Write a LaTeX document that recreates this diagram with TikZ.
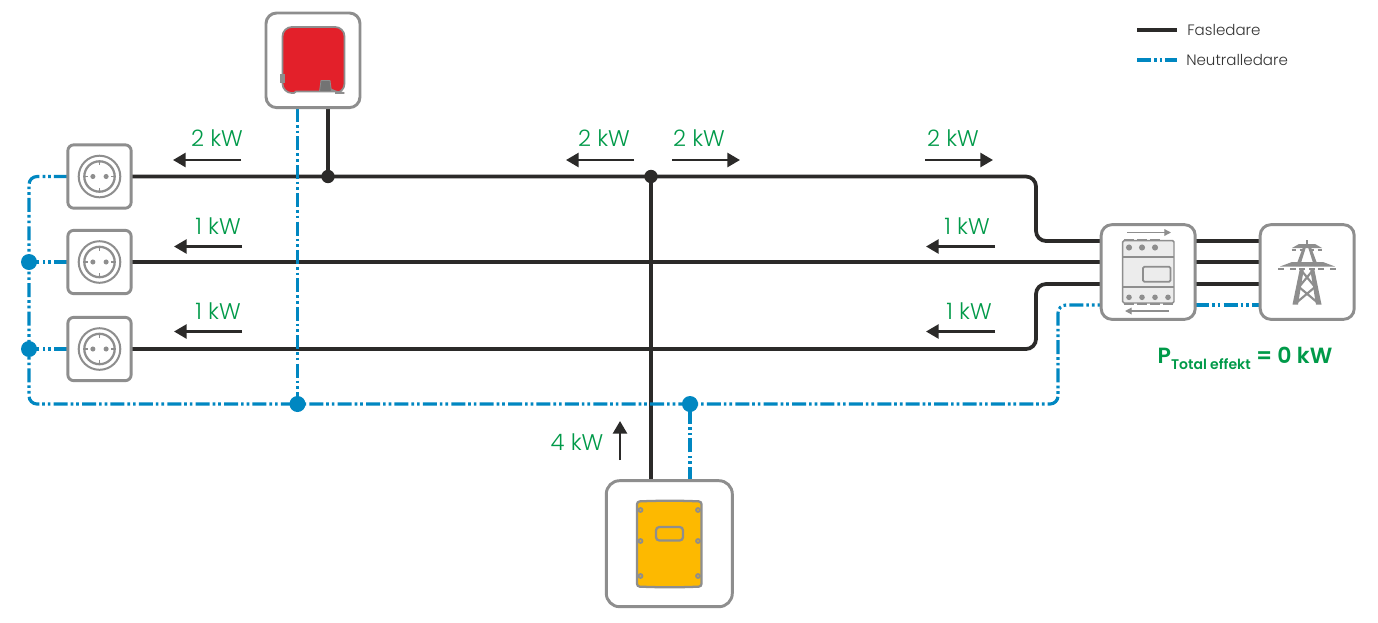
\documentclass[tikz,border=0pt]{standalone}
\usepackage{fontspec}
\setmainfont{Poppins}[UprightFont=* Light,BoldFont=* SemiBold]
\usetikzlibrary{arrows.meta,positioning}
\definecolor{boxgray}{HTML}{8E8E8E}
\definecolor{wire}{HTML}{2B2A29}
\definecolor{neutral}{HTML}{0087C1}
\definecolor{kwgreen}{HTML}{009A49}
\definecolor{invred}{HTML}{E3202A}
\definecolor{islandy}{HTML}{FDB900}
\definecolor{meterbody}{HTML}{ECECEC}
\pgfdeclarelayer{bg}
\pgfsetlayers{bg,main}
\tikzset{
  x=0.75pt,y=-0.75pt,
  devbox/.style={draw=boxgray,line width=2.2pt,fill=white,inner sep=0pt,outer sep=0pt,rectangle},
  phase/.style={draw=wire,line width=2.8pt,rounded corners=7.5pt},
  neut/.style={draw=neutral,line width=2.35pt,rounded corners=6pt,dash pattern=on 10.5pt off 2.2pt on 2pt off 2.2pt on 2pt off 2.4pt},
  flow/.style={draw=wire,line width=2pt,-{Triangle[length=9.5pt,width=10.5pt]}},
  kw/.style={text=kwgreen,font=\fontsize{17}{18}\selectfont,inner sep=0pt},
  legend/.style={text=black!80,font=\fontsize{11.3}{13}\selectfont,anchor=west,inner sep=0pt},
  dotb/.style={circle,fill=neutral,minimum size=12pt,inner sep=0pt},
  dotk/.style={circle,fill=wire,minimum size=10pt,inner sep=0pt},
  thin gray/.style={draw=boxgray,line width=1.3pt},
  pics/socket/.style={code={
    \draw[boxgray,line width=1.5pt] (0,0) circle[radius=15.6pt];
    \draw[boxgray,line width=1.7pt] (0,0) circle[radius=11.4pt];
    \foreach \a in {0,90,180,270}{\draw[boxgray,line width=1.4pt] (\a:11.4pt) -- (\a:8.6pt);}
    \fill[boxgray] (-6.6,0) circle[radius=1.9pt] (6.6,0) circle[radius=1.9pt];
  }},
}
\begin{document}
\begin{tikzpicture}
\useasboundingbox (0,0) rectangle (1378,622);
\begin{pgfonlayer}{bg}
\fill[white] (0,0) rectangle (1378,622);
\end{pgfonlayer}
% devices
\node[devbox,rounded corners=4.5pt,minimum width=47.5pt,minimum height=47.5pt] (s1) at (99.5,176.5) {};
\node[devbox,rounded corners=4.5pt,minimum width=47.5pt,minimum height=47.5pt] (s2) at (99.5,262) {};
\node[devbox,rounded corners=4.5pt,minimum width=47.5pt,minimum height=47.5pt] (s3) at (99.5,349) {};
\pic at (s1) {socket};
\pic at (s2) {socket};
\pic at (s3) {socket};
\node[devbox,rounded corners=8pt,minimum width=70.5pt,minimum height=71pt] (inv) at (313,60.3) {};
\fill[invred,draw=boxgray,line width=1.3pt,rounded corners=7pt] (282.5,60) -- (282.5,27) -- (344.5,27) -- (344.5,93) -- (335,93) [sharp corners] -- (333,91.5) -- (296,91.5) -- (294,93) [rounded corners=7pt] -- (282.5,93) -- cycle;
\fill[black!55,draw=boxgray,line width=.6pt] (319.5,91.5) -- (321,80.5) -- (330,80.5) -- (331.5,91.5) -- cycle;
\fill[boxgray] (280,74) rectangle (284.5,83);
\node[devbox,rounded corners=10pt,minimum width=94.5pt,minimum height=94.5pt] (si) at (669.3,543.7) {};
\fill[islandy,draw=boxgray,line width=1.7pt,rounded corners=2pt] (637,501.5) .. controls (660,500.5) and (680,500.5) .. (701.5,501.5) -- (701.5,586.5) .. controls (680,587.5) and (660,587.5) .. (637,586.5) -- cycle;
\foreach \px in {640.5,698}{\foreach \py in {510,541,576}{\fill[boxgray] (\px,\py) circle[radius=2.2pt];\fill[islandy!60!boxgray] (\px,\py) circle[radius=.9pt];}}
\draw[boxgray,line width=1.7pt,rounded corners=2.5pt] (656,527) rectangle (683,540.5);
\node[devbox,rounded corners=8pt,minimum width=70.5pt,minimum height=71pt] (mt) at (1148.2,272) {};
\node[devbox,rounded corners=8pt,minimum width=70.5pt,minimum height=71pt] (gr) at (1307.2,272) {};
% meter
\fill[meterbody,draw=boxgray,line width=1.1pt,rounded corners=1pt] (1122.7,240.7) rectangle (1174,303);
\draw[thin gray] (1122.7,257.3) -- (1174,257.3) (1122.7,286.7) -- (1174,286.7);
\draw[boxgray,line width=1.3pt,rounded corners=1pt] (1143,266.7) rectangle (1170.5,281.7);
\foreach \px in {1129,1142,1155}{\fill[boxgray] (\px,247.5) circle[radius=2.3pt];\draw[boxgray,line width=1.5pt] (\px-5,240.2) -- (\px+5,240.2);}
\foreach \px in {1129,1142,1155,1168}{\fill[boxgray] (\px,297.3) circle[radius=2.1pt];\draw[boxgray,line width=1.5pt] (\px-5,303.5) -- (\px+5,303.5);}
\draw[boxgray,line width=.9pt,-{Triangle[length=5pt,width=5pt]}] (1127,232.5) -- (1171,232.5);
\draw[boxgray,line width=.9pt,-{Triangle[length=5pt,width=5pt]}] (1169,311) -- (1125,311);
% pylon
\fill[boxgray] (1306,240) rectangle (1308,245);
\fill[boxgray] (1292,248) -- (1299,244) -- (1315,244) -- (1322,248) -- cycle;
\fill[boxgray] (1280,266.5) -- (1292,262) -- (1323,262) -- (1335,266.5) -- cycle;
\foreach \px in {1294,1302,1312,1320}{\draw[boxgray,line width=1.5pt] (\px-2.4,250) -- (\px+2.4,250);}
\foreach \px in {1281,1293,1302,1312,1321,1333}{\draw[boxgray,line width=1.5pt] (\px-2.8,268.8) -- (\px+2.8,268.8);}
\fill[boxgray] (1303,247) -- (1306,247) -- (1300,266) -- (1296,266) -- cycle;
\fill[boxgray] (1311,247) -- (1308,247) -- (1314,266) -- (1318,266) -- cycle;
\fill[boxgray] (1300,268) -- (1304,268) -- (1298,304.5) -- (1292.5,304.5) -- cycle;
\fill[boxgray] (1314,268) -- (1310,268) -- (1316,304.5) -- (1321.5,304.5) -- cycle;
\draw[boxgray,line width=1.6pt] (1301,270) -- (1315,287) -- (1296,303) (1313,270) -- (1299,287) -- (1318,303);
% named connection points
\coordinate (j1) at (328,176.5);
\coordinate (j2) at (651,176.5);
\coordinate (invk) at (inv.south -| j1);
\coordinate (invn) at (297.5,108);
\coordinate (sik) at (si.north -| j2);
\coordinate (jn1) at (297.5,404);
\coordinate (jn2) at (690,404);
\coordinate (sin) at (si.north -| jn2);
\coordinate (nl) at (29,262);
\coordinate (nm) at (29,349);
\coordinate (m1) at (mt.west |- 0,241);
\coordinate (m2) at (mt.west |- s2);
\coordinate (m3) at (mt.west |- 0,284);
\coordinate (mn) at (mt.west |- 0,305);
\coordinate (r1) at (mt.east |- 0,241);
\coordinate (r2) at (mt.east |- s2);
\coordinate (r3) at (mt.east |- 0,284);
\coordinate (rn) at (mt.east |- 0,305);
\coordinate (g1) at (gr.west |- 0,241);
\coordinate (g2) at (gr.west |- s2);
\coordinate (g3) at (gr.west |- 0,284);
\coordinate (gn) at (gr.west |- 0,305);
\node[dotk] (dj1) at (j1) {};
\node[dotk] (dj2) at (j2) {};
\node[dotb] (dnl) at (nl) {};
\node[dotb] (dnm) at (nm) {};
\node[dotb] (dn1) at (jn1) {};
\node[dotb] (dn2) at (jn2) {};
\begin{pgfonlayer}{bg}
\draw[phase] (s1.east) -- (1036,176.5) -- (1036,241) -- (m1);
\draw[phase] (s2.east) -- (m2);
\draw[phase] (s3.east) -- (1036,349) -- (1036,284) -- (m3);
\draw[phase] (invk) -- (j1);
\draw[phase] (sik) -- (j2);
\draw[phase] (r1) -- (g1);
\draw[phase] (r2) -- (g2);
\draw[phase] (r3) -- (g3);
\draw[neut] (s1.west) -- (29,176.5) -- (29,404) -- (1058,404) -- (1058,305) -- (mn);
\draw[neut] (s2.west) -- (nl);
\draw[neut] (s3.west) -- (nm);
\draw[neut] (invn) -- (jn1);
\draw[neut] (sin) -- (jn2);
\draw[neut] (rn) -- (gn);
\end{pgfonlayer}
% flow arrows
\coordinate (a1a) at (241,160); \coordinate (a1b) at (173,160);
\coordinate (a2a) at (634,160); \coordinate (a2b) at (566,160);
\coordinate (a3a) at (672,160); \coordinate (a3b) at (740,160);
\coordinate (a4a) at (925,160); \coordinate (a4b) at (993,160);
\coordinate (a5a) at (242,246.5); \coordinate (a5b) at (174,246.5);
\coordinate (a6a) at (995,246.5); \coordinate (a6b) at (926,246.5);
\coordinate (a7a) at (242,331.5); \coordinate (a7b) at (174,331.5);
\coordinate (a8a) at (995,331.5); \coordinate (a8b) at (926,331.5);
\coordinate (a9a) at (620,460); \coordinate (a9b) at (620,421);
\foreach \n in {1,...,9}{\draw[flow] (a\n a) -- (a\n b);}
% labels
\node[kw] (l1) at (217,138.5) {2 kW};
\node[kw] (l2) at (604,138.5) {2 kW};
\node[kw] (l3) at (699,138.5) {2 kW};
\node[kw] (l4) at (953,138.5) {2 kW};
\node[kw] (l5) at (218,226) {1 kW};
\node[kw] (l6) at (967,226) {1 kW};
\node[kw] (l7) at (218,311) {1 kW};
\node[kw] (l8) at (969,311) {1 kW};
\node[kw] (l9) at (577,442) {4 kW};
\node[text=kwgreen,inner sep=0pt,font=\fontsize{16.5}{18}\selectfont\bfseries] (ptot) at (1245,358) {P\raisebox{-0.5ex}{\fontsize{10.5}{12}\selectfont Total effekt} = 0 kW};
% legend
\coordinate (lg1a) at (1137,30); \coordinate (lg1b) at (1177,30);
\coordinate (lg2a) at (1137,60); \coordinate (lg2b) at (1177,60);
\draw[phase] (lg1a) -- (lg1b);
\draw[neut] (lg2a) -- (lg2b);
\node[legend] (t1) at (1187,30) {Fasledare};
\node[legend] (t2) at (1186,60) {Neutralledare};
\end{tikzpicture}
\end{document}
